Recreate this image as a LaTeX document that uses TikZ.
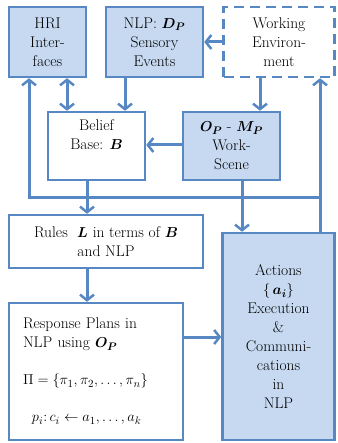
\documentclass[tikz,border=0pt]{standalone}
\usepackage{bm}
\usetikzlibrary{arrows.meta}
\definecolor{edge}{RGB}{88,136,196}
\definecolor{lblue}{RGB}{198,217,240}
\begin{document}
\begin{tikzpicture}[x=1pt,y=-1pt,
  box/.style={draw=edge, line width=2.5pt, align=center, inner sep=0pt, font=\fontsize{15.5pt}{19pt}\selectfont},
  filled/.style={box, fill=lblue},
  arr/.style={draw=edge, line width=3pt, -{Straight Barb[length=5.5pt,width=14pt,line width=2.5pt]}},
  dbl/.style={draw=edge, line width=3pt, {Straight Barb[length=5.5pt,width=14pt,line width=2.5pt]}-{Straight Barb[length=5.5pt,width=14pt,line width=2.5pt]}},
  ]
\useasboundingbox (0,0) rectangle (337,443);
% boxes
\node[filled, minimum width=77pt, minimum height=70pt] (hri) at (47.5,42) {HRI\\Inter-\\faces};
\node[filled, minimum width=97pt, minimum height=70pt] (nlp) at (154.5,42) {NLP: $\bm{D_P}$\\Sensory\\Events};
\node[box, dash pattern=on 10pt off 6pt, minimum width=111pt, minimum height=70pt] (we) at (279,42) {Working\\Environ-\\ment};
\node[box, minimum width=97pt, minimum height=68pt] (bel) at (96.5,146) {Belief\\Base: $\bm{B}$\\[4pt]};
\node[filled, minimum width=97pt, minimum height=68pt] (op) at (231.5,146) {$\bm{O_P}$ - $\bm{M_P}$\\Work-\\Scene};
\node[box, minimum width=194pt, minimum height=53pt] (rules) at (106,241.5) {Rules \ $\bm{L}$ in terms of $\bm{B}$\\and NLP};
\node[box, minimum width=174pt, minimum height=137pt, align=left, text width=146pt] (resp) at (96,371.5)
  {Response Plans in\\NLP using $\bm{O_P}$\\[18pt]
   $\Pi=\{\pi_1,\pi_2,\ldots,\pi_n\}$\\[18pt]
   \hspace*{9pt}$p_i\colon c_i\leftarrow a_1,\ldots,a_k$\\[4pt]};
\node[filled, minimum width=112pt, minimum height=207pt] (act) at (278.5,336.5)
  {Actions\\$\{\,\bm{a_i}\}$\\Execution\\\&\\Communi-\\cations\\in\\NLP};
% x positions
\coordinate (x29) at (29,0);
\coordinate (x67) at (67,0);
\coordinate (x87) at (87,0);
\coordinate (x125) at (125,0);
\coordinate (x242) at (242,0);
\coordinate (x260) at (260,0);
\coordinate (x320) at (320,0);
\coordinate (loopR) at (320,198);
\coordinate (loopL) at (29,198);
\coordinate (y42) at (0,42);
\coordinate (y145) at (0,145);
\coordinate (y337) at (0,337);
% connectors
\draw[arr] (x320 |- act.north) -- (x320 |- we.south);
\draw[arr] (loopR) -- (loopL) -- (x29 |- hri.south);
\draw[dbl] (x67 |- hri.south) -- (x67 |- bel.north);
\draw[arr] (x125 |- nlp.south) -- (x125 |- bel.north);
\draw[arr] (x260 |- we.south) -- (x260 |- op.north);
\draw[arr] (we.west |- y42) -- (nlp.east |- y42);
\draw[arr] (op.west |- y145) -- (bel.east |- y145);
\draw[arr] (x87 |- bel.south) -- (x87 |- rules.north);
\draw[arr] (x242 |- op.south) -- (x242 |- act.north);
\draw[arr] (x87 |- rules.south) -- (x87 |- resp.north);
\draw[arr] (resp.east |- y337) -- (act.west |- y337);
\end{tikzpicture}
\end{document}
